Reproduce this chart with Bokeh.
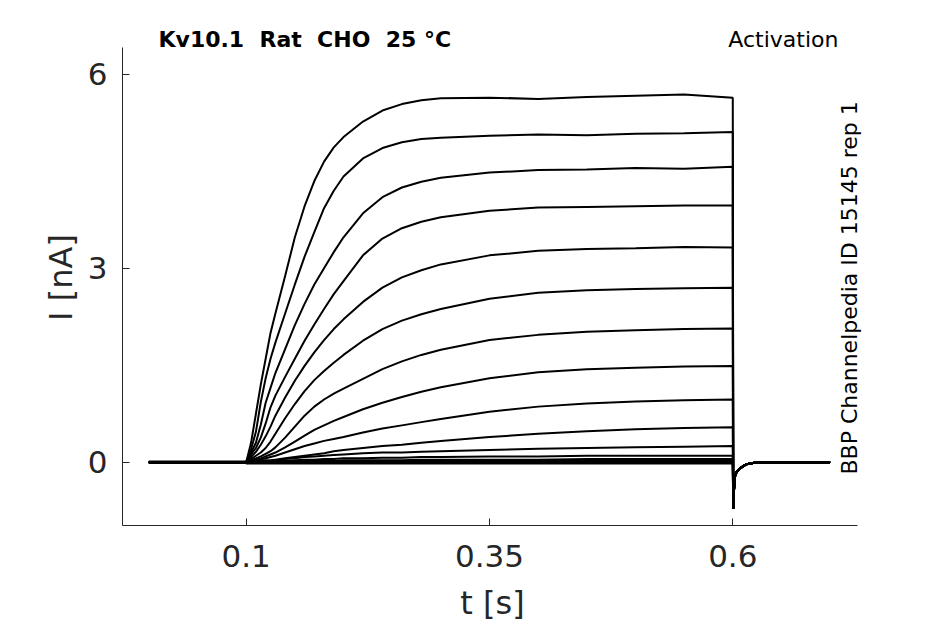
import math
from bokeh.plotting import figure
from bokeh.models import ColumnDataSource, Range1d, Label, FixedTicker
from bokeh.embed import file_html
from bokeh.resources import INLINE

# time points of the test pulse (s) (nA)
step_t = [0.1, 0.105, 0.11, 0.115, 0.12, 0.125, 0.13, 0.14, 0.15, 0.16, 0.17, 0.18, 0.19,
          0.2, 0.22, 0.24, 0.26, 0.28, 0.3, 0.35, 0.4, 0.45, 0.5, 0.55, 0.6]
trace1 = [0.0, 0.3, 0.75, 1.2, 1.6, 2.0, 2.3, 2.88, 3.48, 3.96, 4.35, 4.65, 4.87,
          5.03, 5.27, 5.44, 5.54, 5.6, 5.63, 5.64, 5.62, 5.65, 5.67, 5.69, 5.64]
trace2 = [0.0, 0.2, 0.47, 0.93, 1.3, 1.6, 1.85, 2.3, 2.75, 3.18, 3.56, 3.93, 4.2,
          4.42, 4.7, 4.86, 4.95, 5.0, 5.02, 5.05, 5.07, 5.06, 5.08, 5.09, 5.11]
trace3 = [0.0, 0.15, 0.3, 0.58, 0.92, 1.15, 1.38, 1.75, 2.12, 2.45, 2.75, 3.0, 3.25,
          3.48, 3.85, 4.1, 4.25, 4.34, 4.4, 4.48, 4.52, 4.53, 4.55, 4.54, 4.57]
trace4 = [0.0, 0.12, 0.22, 0.38, 0.6, 0.85, 1.03, 1.32, 1.6, 1.88, 2.13, 2.37, 2.6,
          2.8, 3.2, 3.46, 3.62, 3.72, 3.79, 3.89, 3.94, 3.95, 3.96, 3.97, 3.97]
trace5 = [0.0, 0.08, 0.16, 0.27, 0.4, 0.55, 0.72, 1.0, 1.26, 1.49, 1.7, 1.89, 2.06,
          2.21, 2.48, 2.7, 2.86, 2.97, 3.06, 3.2, 3.27, 3.3, 3.31, 3.33, 3.32]
trace6 = [0.0, 0.05, 0.1, 0.15, 0.22, 0.32, 0.44, 0.68, 0.9, 1.1, 1.27, 1.41, 1.54,
          1.66, 1.88, 2.06, 2.19, 2.29, 2.37, 2.53, 2.62, 2.66, 2.68, 2.69, 2.7]
trace7 = [0.0, 0.03, 0.06, 0.09, 0.13, 0.17, 0.23, 0.38, 0.55, 0.72, 0.86, 0.97, 1.06,
          1.14, 1.29, 1.44, 1.56, 1.66, 1.74, 1.89, 1.97, 2.02, 2.04, 2.06, 2.07]
trace8 = [0.0, 0.02, 0.04, 0.06, 0.09, 0.12, 0.15, 0.23, 0.32, 0.41, 0.5, 0.57, 0.64,
          0.7, 0.82, 0.92, 1.01, 1.09, 1.16, 1.3, 1.39, 1.44, 1.46, 1.48, 1.49]
trace9 = [0.0, 0.01, 0.03, 0.04, 0.06, 0.08, 0.1, 0.15, 0.2, 0.25, 0.29, 0.33, 0.36,
          0.39, 0.46, 0.52, 0.57, 0.62, 0.67, 0.78, 0.86, 0.91, 0.94, 0.96, 0.97]
trace10 = [0.0, 0.01, 0.01, 0.02, 0.03, 0.03, 0.04, 0.06, 0.08, 0.1, 0.12, 0.14, 0.17,
           0.19, 0.22, 0.25, 0.27, 0.3, 0.33, 0.39, 0.44, 0.48, 0.51, 0.53, 0.54]
trace11 = [0.0, 0.0, 0.01, 0.01, 0.02, 0.02, 0.03, 0.05, 0.06, 0.08, 0.09, 0.1, 0.11,
           0.12, 0.14, 0.15, 0.15, 0.16, 0.17, 0.19, 0.21, 0.22, 0.23, 0.24, 0.25]
trace12 = [0.0, 0.0, 0.0, 0.01, 0.01, 0.01, 0.02, 0.02, 0.03, 0.04, 0.04, 0.05, 0.05,
           0.06, 0.06, 0.07, 0.07, 0.08, 0.08, 0.09, 0.09, 0.1, 0.1, 0.1, 0.1]
trace13 = [0.0, 0.0, 0.0, 0.0, 0.0, 0.01, 0.01, 0.01, 0.01, 0.02, 0.02, 0.02, 0.02,
           0.03, 0.03, 0.03, 0.03, 0.04, 0.04, 0.04, 0.04, 0.05, 0.05, 0.05, 0.05]

# traces that stay at baseline during the pulse
flat_t = [0.1, 0.35, 0.6]
flat1 = [0.02, 0.02, 0.02]
flat2 = [0.0, 0.0, 0.0]
flat3 = [-0.02, -0.02, -0.02]
flat4 = [0.01, -0.01, 0.0]

# holding before the pulse and tail after it
hold_t = [0.0, 0.0999]
hold_i = [0.0, 0.0]
tail_t = [0.6005, 0.6012, 0.602, 0.604, 0.607, 0.614, 0.625, 0.7]
tail_i = [-0.72, -0.45, -0.23, -0.15, -0.1, -0.03, 0.0, 0.0]

x_ticks = [0.1, 0.35, 0.6]
y_ticks = [0, 3, 6]
x_lim = (-0.0271, 0.728)
y_lim = (-0.979, 6.417)

steps = [trace1, trace2, trace3, trace4, trace5, trace6, trace7, trace8, trace9,
         trace10, trace11, trace12, trace13]
flats = [flat1, flat2, flat3, flat4]

xs, ys = [], []
for tr in steps:
    xs.append(hold_t + step_t + tail_t)
    ys.append(hold_i + tr + tail_i)
for tr in flats:
    xs.append(hold_t + flat_t + tail_t)
    ys.append(hold_i + tr + tail_i)
src = ColumnDataSource(data=dict(xs=xs, ys=ys))

FONT = "DejaVu Sans"
GREY = "#262626"

# frame is a bit larger than the axes box so the side texts are not clipped
p = figure(width=930, height=624, output_backend="svg", toolbar_location=None,
           x_range=Range1d(-0.0271, 0.7333), y_range=Range1d(-0.979, 6.694),
           min_border_left=122, min_border_right=68, min_border_top=29, min_border_bottom=98,
           x_axis_label="t [s]", y_axis_label="I [nA]")
p.outline_line_color = None
p.grid.visible = False
p.background_fill_color = "white"
p.border_fill_color = "white"

p.line(hold_t, hold_i, line_color="black", line_width=3.5)
p.multi_line("xs", "ys", source=src, line_color="black", line_width=2)

p.xaxis.ticker = FixedTicker(ticks=x_ticks)
p.yaxis.ticker = FixedTicker(ticks=y_ticks)
p.xaxis.bounds = x_lim
p.yaxis.bounds = y_lim
p.xaxis.major_label_overrides = {0.1: "0.1", 0.35: "0.35", 0.6: "0.6"}
for ax in (p.xaxis, p.yaxis):
    ax.axis_line_color = GREY
    ax.major_tick_line_color = GREY
    ax.major_tick_in = 7
    ax.major_tick_out = 0
    ax.minor_tick_line_color = None
    ax.major_label_text_font = FONT
    ax.major_label_text_font_size = "31px"
    ax.major_label_text_color = GREY
    ax.axis_label_text_font = FONT
    ax.axis_label_text_font_size = "32px"
    ax.axis_label_text_font_style = "normal"
    ax.axis_label_text_color = GREY
p.yaxis.major_label_standoff = 15
p.xaxis.major_label_standoff = 19
p.yaxis.axis_label_standoff = 5
p.xaxis.axis_label_standoff = 14

p.add_layout(Label(x=0.0099, y=6.537, text="Kv10.1\u00a0 Rat\u00a0 CHO\u00a0 25 °C",
                   text_font=FONT, text_font_size="22px", text_font_style="bold",
                   text_color="black", text_baseline="alphabetic", text_align="left"))
p.add_layout(Label(x=0.7086, y=6.537, text="Activation", text_font=FONT,
                   text_font_size="22px", text_color="black",
                   text_baseline="alphabetic", text_align="right"))
p.add_layout(Label(x=0.7196, y=-0.19, text="BBP Channelpedia ID 15145 rep 1", text_font=FONT,
                   text_font_size="22px", text_color="black", angle=math.pi / 2,
                   text_baseline="alphabetic", text_align="left"))

open("out.html", "w").write(file_html(p, INLINE))
